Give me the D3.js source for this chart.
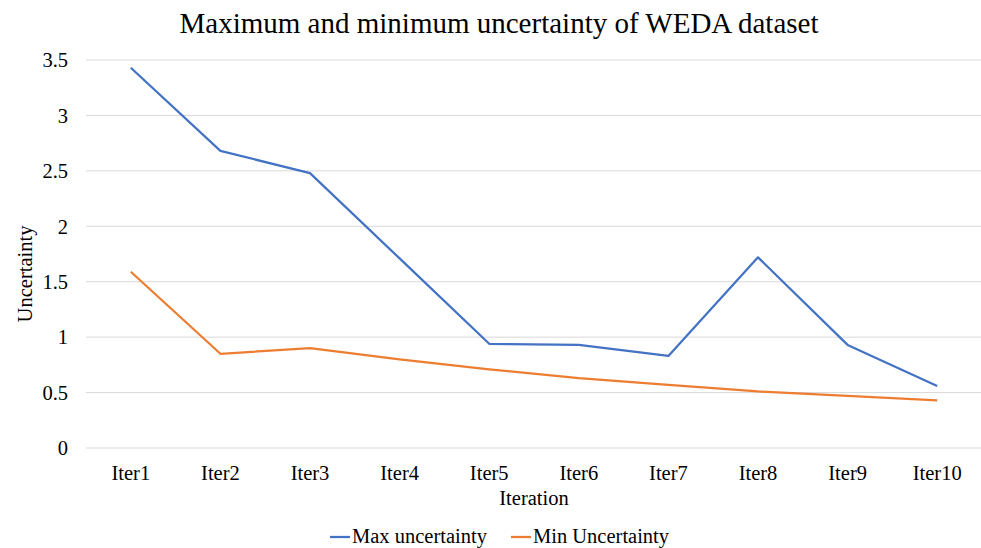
<!DOCTYPE html>
<html><head><meta charset="utf-8">
<script src="https://cdn.jsdelivr.net/npm/d3@7"></script>
<style>
html,body{margin:0;padding:0;background:#fff;}
</style></head>
<body><svg id="chart" width="981" height="548" style="font-family:'Liberation Serif','Times New Roman',serif"></svg>
<script>
const categories = ["Iter1","Iter2","Iter3","Iter4","Iter5","Iter6","Iter7","Iter8","Iter9","Iter10"];
const maxUncertainty = [3.43, 2.68, 2.48, 1.71, 0.94, 0.93, 0.83, 1.72, 0.93, 0.56];
const minUncertainty = [1.59, 0.85, 0.90, 0.80, 0.71, 0.63, 0.57, 0.51, 0.47, 0.43];
const yTicks = [0, 0.5, 1, 1.5, 2, 2.5, 3, 3.5];
const seriesNames = ["Max uncertainty", "Min Uncertainty"];
const seriesColors = ["#4472C4", "#ED7D31"];
const title = "Maximum and minimum uncertainty of WEDA dataset";

(function () {
const FONT = "'Liberation Serif','Times New Roman',serif";
const svg = d3.select("#chart");
const pLeft = 86, pRight = 982, pTop = 60, pBottom = 448;

const x = d3.scaleBand().domain(categories).range([pLeft, pRight]);
const y = d3.scaleLinear().domain([0, 3.5]).range([pBottom, pTop]);

// gridlines
svg.append("g").selectAll("line").data(yTicks).join("line")
  .attr("x1", pLeft).attr("x2", pRight)
  .attr("y1", d => y(d)).attr("y2", d => y(d))
  .attr("stroke", "#d9d9d9").attr("stroke-width", 1);

// y axis labels
const yAxis = d3.axisLeft(y).tickValues(yTicks).tickSize(0).tickPadding(0).tickFormat(d3.format("~g"));
const gy = svg.append("g").attr("transform", `translate(${68},0)`).call(yAxis);
gy.attr("font-family", null).attr("font-size", null);
gy.select(".domain").remove();
gy.selectAll("text").style("font-family", FONT).style("font-size", "20.5px").attr("fill", "#000").attr("dy", "0.33em");

// x axis labels
const xAxis = d3.axisBottom(x).tickSize(0).tickPadding(0);
const gx = svg.append("g").attr("transform", `translate(0,${pBottom})`).call(xAxis);
gx.attr("font-family", null).attr("font-size", null);
gx.select(".domain").remove();
gx.selectAll("text").style("font-family", FONT).style("font-size", "20.5px").attr("fill", "#000").attr("dy", null).attr("y", 32);

// lines
const cx = d => x(d) + x.bandwidth() / 2;
const line = d3.line().x((d, i) => cx(categories[i])).y(d => y(d));
[maxUncertainty, minUncertainty].forEach((s, i) => {
  svg.append("path").datum(s).attr("d", line)
    .attr("fill", "none").attr("stroke", seriesColors[i]).attr("stroke-width", 2.25)
    .attr("stroke-linejoin", "round");
});

// title
svg.append("text").attr("x", 499).attr("y", 33).attr("text-anchor", "middle")
  .style("font-family", FONT).style("font-size", "29px").text(title);

// axis titles
svg.append("text").attr("x", (pLeft + pRight) / 2).attr("y", 505).attr("text-anchor", "middle")
  .style("font-family", FONT).style("font-size", "20.5px").text("Iteration");
svg.append("text").attr("transform", "translate(32,274) rotate(-90)").attr("text-anchor", "middle")
  .style("font-family", FONT).style("font-size", "20.5px").text("Uncertainty");

// legend
const legendX = [330, 511];
seriesNames.forEach((n, i) => {
  svg.append("line").attr("x1", legendX[i]).attr("x2", legendX[i] + 20)
    .attr("y1", 537).attr("y2", 537).attr("stroke", seriesColors[i]).attr("stroke-width", 2.25);
  svg.append("text").attr("x", legendX[i] + 22).attr("y", 543)
    .style("font-family", FONT).style("font-size", "20.5px").text(n);
});
})();
</script></body></html>
